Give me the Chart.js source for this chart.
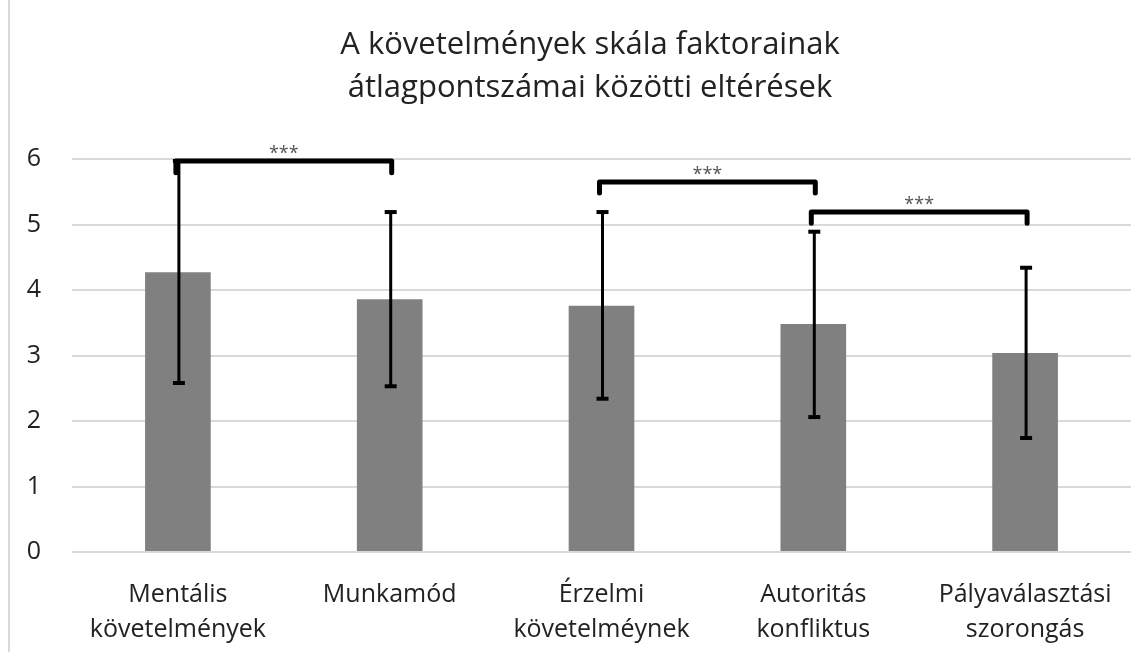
<!DOCTYPE html>
<html>
<head>
<meta charset="utf-8">
<script src="https://cdn.jsdelivr.net/npm/chart.js@4"></script>
<style>
html,body{margin:0;padding:0;background:#fff;}
#wrap{position:relative;width:1147px;height:652px;}
#border{position:absolute;left:8px;top:0;width:0;height:652px;border-left:2px solid #d9d9d9;}
</style>
</head>
<body>
<div id="wrap"><canvas id="c" width="1147" height="652"></canvas><div id="border"></div></div>
<script>
const categories = [["Mentális","követelmények"],["Munkamód"],["Érzelmi","követelméynek"],["Autoritás","konfliktus"],["Pályaválasztási","szorongás"]];
const means = [4.27, 3.86, 3.76, 3.48, 3.04];
const errLow = [2.58, 2.53, 2.34, 2.06, 1.74];
const errHigh = [5.97, 5.19, 5.19, 4.89, 4.34];
const bracketFrom = [0, 2, 3];
const bracketTo = [1, 3, 4];
const bracketLevel = [5.97, 5.65, 5.19];
const bracketTickEnd = [5.79, 5.48, 5.02];
const bracketLabel = ["***", "***", "***"];
const titleLines = ["A követelmények skála faktorainak", "átlagpontszámai közötti eltérések"];
const yTicks = [0, 1, 2, 3, 4, 5, 6];

const FONT = "'Open Sans', sans-serif";
const TEXT = "#222222";

const overlay = {
  id: 'overlay',
  afterDatasetsDraw(chart) {
    const ctx = chart.ctx;
    const x = chart.scales.x, y = chart.scales.y;
    ctx.save();
    // error bars
    ctx.strokeStyle = '#000';
    ctx.lineCap = 'butt';
    for (let i = 0; i < means.length; i++) {
      const px = x.getPixelForValue(i) + 1;
      const yl = y.getPixelForValue(errLow[i]);
      const yh = y.getPixelForValue(errHigh[i]);
      ctx.lineWidth = 3;
      ctx.beginPath(); ctx.moveTo(px, yl); ctx.lineTo(px, yh); ctx.stroke();
      ctx.lineWidth = 4;
      ctx.beginPath(); ctx.moveTo(px - 6, yl); ctx.lineTo(px + 6, yl); ctx.stroke();
      ctx.beginPath(); ctx.moveTo(px - 6, yh); ctx.lineTo(px + 6, yh); ctx.stroke();
    }
    // brackets
    ctx.lineWidth = 5;
    ctx.lineCap = 'round';
    ctx.lineJoin = 'round';
    for (let b = 0; b < bracketFrom.length; b++) {
      const x1 = x.getPixelForValue(bracketFrom[b]) - 2;
      const x2 = x.getPixelForValue(bracketTo[b]) + 2;
      const yb = y.getPixelForValue(bracketLevel[b]);
      const yt = y.getPixelForValue(bracketTickEnd[b]);
      ctx.beginPath();
      ctx.moveTo(x1, yt); ctx.lineTo(x1, yb); ctx.lineTo(x2, yb); ctx.lineTo(x2, yt);
      ctx.stroke();
      ctx.fillStyle = '#555';
      ctx.font = "18px " + FONT;
      ctx.textAlign = 'center';
      ctx.textBaseline = 'alphabetic';
      ctx.fillText(bracketLabel[b], (x1 + x2) / 2, yb - 2);
    }
    // title
    ctx.fillStyle = TEXT;
    ctx.font = "31px " + FONT;
    ctx.textAlign = 'center';
    ctx.textBaseline = 'middle';
    ctx.fillText(titleLines[0], 590, 45);
    ctx.fillText(titleLines[1], 590, 88);
    ctx.restore();
  }
};

new Chart(document.getElementById('c'), {
  type: 'bar',
  data: {
    labels: categories,
    datasets: [{
      data: means,
      backgroundColor: '#808080',
      borderWidth: 0,
      categoryPercentage: 1,
      barPercentage: 0.31
    }]
  },
  options: {
    responsive: false,
    animation: false,
    devicePixelRatio: 1,
    layout: { padding: { top: 159, right: 16, bottom: 0, left: 0 } },
    plugins: { legend: { display: false }, tooltip: { enabled: false }, title: { display: false } },
    scales: {
      x: {
        grid: { display: false },
        border: { display: false },
        ticks: { color: TEXT, font: { family: FONT, size: 25, lineHeight: 1.38 }, padding: 18, maxRotation: 0, autoSkip: false },
        afterFit(s) { s.height = 100; }
      },
      y: {
        min: 0, max: 6,
        afterBuildTicks(s) { s.ticks = yTicks.map(v => ({ value: v })); },
        grid: { color: '#d9d9d9', lineWidth: 2, drawTicks: false },
        border: { display: false },
        ticks: { color: TEXT, font: { family: FONT, size: 25 }, padding: 31 },
        afterFit(s) { s.width = 72; }
      }
    }
  },
  plugins: [overlay]
});
</script>
</body>
</html>
